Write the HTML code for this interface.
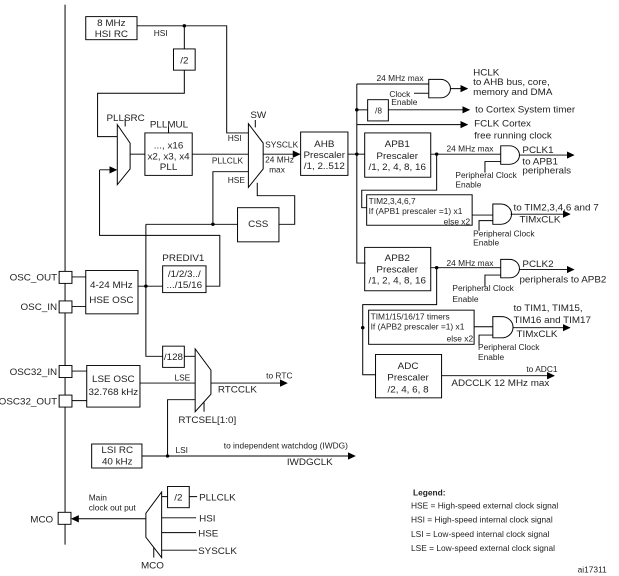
<!DOCTYPE html>
<html><head><meta charset="utf-8"><style>
html,body{margin:0;padding:0;background:#fff;}
svg{display:block;}
text{font-family:"Liberation Sans",sans-serif;font-size:10px;fill:#222;}
.s{font-size:8.5px;}
</style></head><body>
<svg width="619" height="576" viewBox="0 0 628 624" preserveAspectRatio="none" xmlns="http://www.w3.org/2000/svg">
<defs><marker id="a" markerWidth="8" markerHeight="8" refX="7" refY="4" orient="auto" markerUnits="userSpaceOnUse"><path d="M0,0 L8,4 L0,8 z" fill="#000"/></marker></defs>
<g stroke="#000" stroke-width="1" fill="none">
<line x1="66" y1="5" x2="66" y2="590"/>
<rect x="60" y="294" width="13" height="13" fill="#fff"/>
<rect x="60" y="326" width="13" height="13" fill="#fff"/>
<rect x="60" y="396" width="13" height="13" fill="#fff"/>
<rect x="60" y="428" width="13" height="13" fill="#fff"/>
<rect x="59" y="555" width="13" height="13" fill="#fff"/>
<rect x="87" y="18" width="52" height="25"/>
<path d="M139 28 H230 V144 H252"/>
<path d="M187 28 V53"/>
<rect x="176" y="53" width="22" height="23"/>
<path d="M187 76 V101 H99 V148 H119"/>
<path d="M119 135 L132 155 L132 183 L119 200 Z"/>
<line x1="127" y1="137" x2="127" y2="128"/>
<path d="M132 167 H147"/>
<rect x="147" y="144" width="48" height="46"/>
<line x1="171" y1="144" x2="171" y2="137"/>
<path d="M195 167 H252"/>
<path d="M101 184 V255 H223 V310 H209" />
<path d="M101 184 H118" marker-end="url(#a)"/>
<rect x="165" y="288" width="44" height="29"/>
<path d="M252 134 L267 155 L267 183 L252 203 Z"/>
<line x1="259" y1="138" x2="259" y2="130"/>
<path d="M267 167 H304" marker-end="url(#a)"/>
<rect x="305" y="143" width="48" height="47"/>
<path d="M252 186 H216 V243"/>
<path d="M148 243 H241"/>
<rect x="241" y="225" width="42" height="37"/>
<path d="M283 243 H299 V212 H261 V198"/>
<rect x="87" y="293" width="53" height="47"/>
<path d="M73 300 H87 M73 332 H87"/>
<path d="M140 310 H165"/>
<path d="M148 243 V386 H165"/>
<rect x="165" y="375" width="22" height="23"/>
<path d="M198 378 L214 401 L214 427 L198 446 Z"/>
<path d="M187 386 H198"/>
<line x1="207" y1="436" x2="207" y2="446"/>
<rect x="88" y="396" width="54" height="45"/>
<path d="M73 402 H88 M73 434 H88"/>
<path d="M142 415 H198"/>
<path d="M214 415 H291" marker-end="url(#a)"/>
<path d="M170 494 V433 H198"/>
<rect x="93" y="481" width="51" height="26"/>
<path d="M144 494 H360" marker-end="url(#a)"/>
<!-- MCO mux -->
<path d="M148 556 L164 533 L164 604 L148 582 Z"/>
<rect x="170" y="527" width="22" height="23"/>
<path d="M164 538 H170 M192 538 H200 M164 561 H199 M164 577 H199 M164 596 H200"/>
<path d="M148 562 H73" marker-end="url(#a)"/>
<line x1="156" y1="593" x2="156" y2="604"/>
<!-- right side -->
<path d="M353 167 H362"/>
<path d="M362 91 V285 H371"/>
<path d="M362 91 H435"/>
<path d="M435 86 H447 A10 10 0 0 1 447 106 H435 Z"/>
<path d="M457 96 H474" marker-end="url(#a)"/>
<path d="M420 101 H435"/>
<path d="M362 119 H373"/>
<rect x="373" y="108" width="21" height="23"/>
<path d="M394 119 H476" marker-end="url(#a)"/>
<path d="M362 135 H474" marker-end="url(#a)"/>
<rect x="370" y="144" width="67" height="48"/>
<path d="M362 167 H370"/>
<path d="M437 167 H508"/>
<path d="M508 158 H517 A10 10 0 0 1 517 178 H508 Z"/>
<path d="M527 168 H582" marker-end="url(#a)"/>
<path d="M492 187 V175 H508"/>
<path d="M443 167 V206 H367 V225 H372"/>
<rect x="372" y="211" width="107" height="33"/>
<path d="M479 233 H500"/>
<path d="M500 221 H508 A10 10 0 0 1 508 243 H500 Z"/>
<path d="M518 232 H578" marker-end="url(#a)"/>
<path d="M486 250 V239 H500"/>
<rect x="370" y="268" width="67" height="47"/>
<path d="M437 290 H508"/>
<path d="M508 281 H517 A10 10 0 0 1 517 301 H508 Z"/>
<path d="M527 292 H582" marker-end="url(#a)"/>
<path d="M492 311 V298 H508"/>
<path d="M443 290 V330 H368 V406 H381"/>
<rect x="374" y="336" width="107" height="37"/>
<path d="M481 354 H500"/>
<path d="M500 343 H509 A11 11 0 0 1 509 366 H500 Z"/>
<path d="M520 355 H578" marker-end="url(#a)"/>
<path d="M486 375 V363 H500"/>
<rect x="381" y="384" width="67" height="47"/>
<path d="M448 407 H562" marker-end="url(#a)"/>
</g>
<g fill="#000">
<circle cx="187" cy="28" r="1.8"/><circle cx="216" cy="243" r="1.8"/><circle cx="148" cy="310" r="1.8"/>
<circle cx="170" cy="494" r="1.8"/><circle cx="362" cy="119" r="1.8"/><circle cx="362" cy="167" r="1.8"/>
<circle cx="443" cy="167" r="1.8"/><circle cx="443" cy="290" r="1.8"/><circle cx="368" cy="355" r="1.8"/>
</g>
<g>
<text x="113" y="28" text-anchor="middle">8 MHz</text><text x="113" y="40" text-anchor="middle">HSI RC</text>
<text x="156" y="39" class="s">HSI</text>
<text x="187" y="69" text-anchor="middle">/2</text>
<text x="108" y="131">PLLSRC</text>
<text x="152" y="138">PLLMUL</text>
<text x="171" y="161" text-anchor="middle">..., x16</text>
<text x="171" y="173" text-anchor="middle">x2, x3, x4</text>
<text x="171" y="184" text-anchor="middle">PLL</text>
<text x="231" y="153" class="s">HSI</text>
<text x="215" y="177" class="s">PLLCLK</text>
<text x="231" y="198" class="s">HSE</text>
<text x="254" y="128">SW</text>
<text x="269" y="160" class="s">SYSCLK</text>
<text x="269" y="176" class="s">24 MHz</text>
<text x="273" y="187" class="s">max</text>
<text x="329" y="159" text-anchor="middle">AHB</text>
<text x="329" y="171" text-anchor="middle">Prescaler</text>
<text x="329" y="183" text-anchor="middle">/1, 2..512</text>
<text x="262" y="246" text-anchor="middle">CSS</text>
<text x="186" y="283" text-anchor="middle">PREDIV1</text>
<text x="187" y="300" text-anchor="middle">/1/2/3../</text>
<text x="187" y="312" text-anchor="middle">.../15/16</text>
<text x="113" y="312" text-anchor="middle">4-24 MHz</text>
<text x="113" y="328" text-anchor="middle">HSE OSC</text>
<text x="58" y="304" text-anchor="end">OSC_OUT</text>
<text x="58" y="336" text-anchor="end">OSC_IN</text>
<text x="176" y="390" text-anchor="middle">/128</text>
<text x="58" y="406" text-anchor="end">OSC32_IN</text>
<text x="58" y="438" text-anchor="end">OSC32_OUT</text>
<text x="115" y="414" text-anchor="middle">LSE OSC</text>
<text x="115" y="428" text-anchor="middle">32.768 kHz</text>
<text x="177" y="412" class="s">LSE</text>
<text x="270" y="410" class="s">to RTC</text>
<text x="221" y="425">RTCCLK</text>
<text x="181" y="458">RTCSEL[1:0]</text>
<text x="119" y="491" text-anchor="middle">LSI RC</text>
<text x="119" y="503" text-anchor="middle">40 kHz</text>
<text x="178" y="491" class="s">LSI</text>
<text x="227" y="486" class="s">to independent watchdog (IWDG)</text>
<text x="291" y="504">IWDGCLK</text>
<text x="90" y="542" class="s">Main</text>
<text x="90" y="553" class="s">clock out put</text>
<text x="54" y="566" text-anchor="end">MCO</text>
<text x="181" y="542" text-anchor="middle">/2</text>
<text x="202" y="542">PLLCLK</text>
<text x="202" y="565">HSI</text>
<text x="201" y="581">HSE</text>
<text x="201" y="600">SYSCLK</text>
<text x="143" y="616">MCO</text>
<text x="382" y="88" class="s">24 MHz max</text>
<text x="395" y="105" class="s">Clock</text>
<text x="397" y="114" class="s">Enable</text>
<text x="480" y="82">HCLK</text>
<text x="480" y="92">to AHB bus, core,</text>
<text x="480" y="103">memory and DMA</text>
<text x="384" y="123" text-anchor="middle" class="s">/8</text>
<text x="482" y="122">to Cortex System timer</text>
<text x="481" y="137">FCLK Cortex</text>
<text x="481" y="150">free running clock</text>
<text x="403" y="159" text-anchor="middle">APB1</text>
<text x="403" y="172" text-anchor="middle">Prescaler</text>
<text x="403" y="184" text-anchor="middle">/1, 2, 4, 8, 16</text>
<text x="453" y="164" class="s">24 MHz max</text>
<text x="530" y="166">PCLK1</text>
<text x="530" y="178">to APB1</text>
<text x="530" y="188">peripherals</text>
<text x="462" y="193" class="s">Peripheral Clock</text>
<text x="462" y="203" class="s">Enable</text>
<text x="374" y="221" class="s">TIM2,3,4,6,7</text>
<text x="374" y="232" class="s">If (APB1 prescaler =1) x1</text>
<text x="477" y="243" text-anchor="end" class="s">else  x2</text>
<text x="521" y="228">to TIM2,3,4,6 and 7</text>
<text x="527" y="241">TIMxCLK</text>
<text x="480" y="256" class="s">Peripheral Clock</text>
<text x="480" y="266" class="s">Enable</text>
<text x="403" y="283" text-anchor="middle">APB2</text>
<text x="403" y="295" text-anchor="middle">Prescaler</text>
<text x="403" y="307" text-anchor="middle">/1, 2, 4, 8, 16</text>
<text x="453" y="288" class="s">24 MHz max</text>
<text x="530" y="289">PCLK2</text>
<text x="527" y="306">peripherals to APB2</text>
<text x="459" y="315" class="s">Peripheral Clock</text>
<text x="459" y="327" class="s">Enable</text>
<text x="521" y="337">to TIM1, TIM15,</text>
<text x="521" y="350">TIM16 and TIM17</text>
<text x="524" y="365">TIMxCLK</text>
<text x="376" y="346" class="s">TIM1/15/16/17 timers</text>
<text x="376" y="357" class="s">If (APB2 prescaler =1) x1</text>
<text x="480" y="370" text-anchor="end" class="s">else x2</text>
<text x="485" y="379" class="s">Peripheral Clock</text>
<text x="485" y="390" class="s">Enable</text>
<text x="414" y="400" text-anchor="middle">ADC</text>
<text x="414" y="412" text-anchor="middle">Prescaler</text>
<text x="414" y="425" text-anchor="middle">/2, 4, 6, 8</text>
<text x="534" y="403" class="s">to ADC1</text>
<text x="458" y="418">ADCCLK 12 MHz max</text>
<text x="419" y="537" class="s" style="font-weight:bold">Legend:</text>
<text x="417" y="551" class="s">HSE = High-speed external clock signal</text>
<text x="417" y="566" class="s">HSI = High-speed internal clock signal</text>
<text x="417" y="582" class="s">LSI = Low-speed internal clock signal</text>
<text x="417" y="597" class="s">LSE = Low-speed external clock signal</text>
<text x="586" y="620" class="s">ai17311</text>
</g>
</svg>
</body></html>
